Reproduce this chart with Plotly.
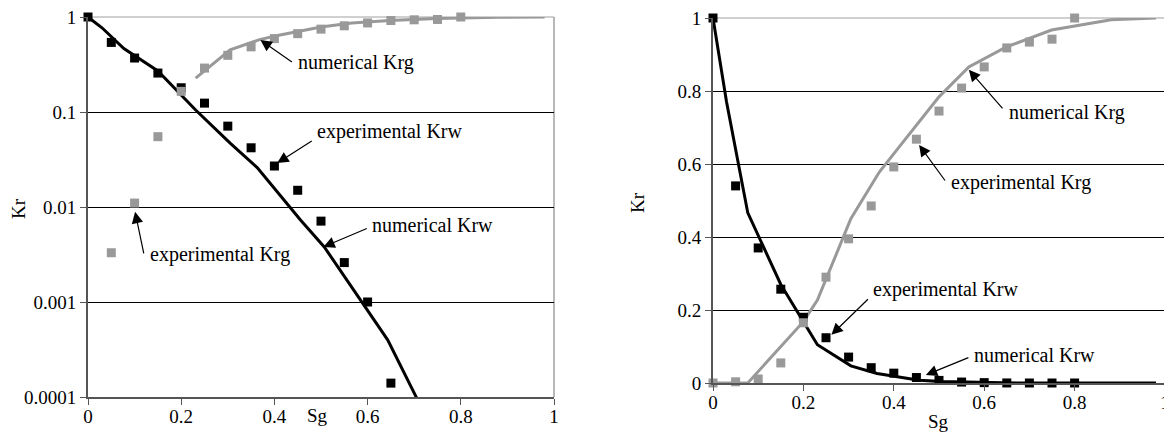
import numpy as np
import plotly.graph_objects as go

# ---------------- data ----------------
sg_exp = [0, 0.05, 0.1, 0.15, 0.2, 0.25, 0.3, 0.35, 0.4, 0.45, 0.5, 0.55, 0.6, 0.65, 0.7, 0.75, 0.8]
krw_exp = [1.0, 0.54, 0.37, 0.257, 0.18, 0.124, 0.071, 0.042, 0.027, 0.015, 0.0071, 0.0026, 0.001,
           0.00014, 0.00003, 0.00001, 0.000005]
krg_exp = [0, 0.0033, 0.011, 0.055, 0.165, 0.29, 0.395, 0.485, 0.592, 0.668, 0.745, 0.808, 0.866,
           0.918, 0.934, 0.942, 1.0]

sg_num_w = [0, 0.03, 0.077, 0.15, 0.231, 0.305, 0.363, 0.456, 0.507, 0.568, 0.643, 0.72, 0.8, 0.9, 0.98]
krw_num = [1.0, 0.77, 0.466, 0.27, 0.105, 0.047, 0.026, 0.0073, 0.0038, 0.0014, 0.0004, 0.00007,
           0.00001, 0.000001, 0.0000001]

sg_num_g = [0, 0.077, 0.2, 0.231, 0.305, 0.368, 0.412, 0.5, 0.566, 0.648, 0.749, 0.881, 0.98]
krg_num = [0, 0, 0.168, 0.227, 0.45, 0.578, 0.647, 0.784, 0.866, 0.92, 0.967, 0.995, 1.0]
log_krg_start = 3          # log plot's numerical Krg curve starts at this node

x_ticks = [0, 0.2, 0.4, 0.6, 0.8, 1]
log_ticks = [0.0001, 0.001, 0.01, 0.1, 1]
log_tick_text = ["0.0001", "0.001", "0.01", "0.1", "1"]
lin_ticks = [0, 0.2, 0.4, 0.6, 0.8, 1]
lin_tick_text = ["0", "0.2", "0.4", "0.6", "0.8", "1"]

# annotation labels: (text, arrow-head x, head y, tail dx, tail dy, text x, text y)
left_labels = [
    ("numerical Krg", 0.37, 0.573, 33, 23, 0.447, 0.328),
    ("experimental Krw", 0.406, 0.029, 36, -23, 0.488, 0.0617),
    ("numerical Krw", 0.505, 0.0038, 45, -19, 0.606, 0.00646),
    ("experimental Krg", 0.101, 0.0089, 9, 43, 0.129, 0.00313),
]
right_labels = [
    ("numerical Krg", 0.566, 0.858, 35, 40, 0.65, 0.742),
    ("experimental Krg", 0.456, 0.652, 27, 37, 0.522, 0.548),
    ("experimental Krw", 0.262, 0.132, 38, -37, 0.35, 0.255),
    ("numerical Krw", 0.471, 0.022, 44, -18, 0.573, 0.077),
]

# ---------------- styling ----------------
FONT = "Liberation Serif"
BLACK = "#000000"
GRAY = "#999999"
PAGE_OFF = 8                      # default body margin of the html page
W, H = 1172 - PAGE_OFF, 434 - PAGE_OFF


def px_x(p):                      # screen pixel -> paper fraction
    return (p - PAGE_OFF) / W


def px_y(p):
    return 1 - (p - PAGE_OFF) / H


fig = go.Figure()

# ---- left (log) chart ----
ymin_log = 1e-4
fig.add_trace(go.Scatter(x=sg_num_w, y=krw_num, mode="lines", line=dict(color=BLACK, width=3),
                         xaxis="x", yaxis="y", showlegend=False))
fig.add_trace(go.Scatter(x=sg_num_g[log_krg_start:], y=krg_num[log_krg_start:], mode="lines",
                         line=dict(color=GRAY, width=3), xaxis="x", yaxis="y", showlegend=False))
lw = [(s, v) for s, v in zip(sg_exp, krw_exp) if v >= ymin_log]
fig.add_trace(go.Scatter(x=[p[0] for p in lw], y=[p[1] for p in lw], mode="markers",
                         marker=dict(symbol="square", size=9, color=BLACK),
                         cliponaxis=False, xaxis="x", yaxis="y", showlegend=False))
lg = [(s, v) for s, v in zip(sg_exp, krg_exp) if v >= ymin_log]
fig.add_trace(go.Scatter(x=[p[0] for p in lg], y=[p[1] for p in lg], mode="markers",
                         marker=dict(symbol="square", size=9, color=GRAY),
                         cliponaxis=False, xaxis="x", yaxis="y", showlegend=False))

# ---- right (linear) chart ----
fig.add_trace(go.Scatter(x=sg_num_w, y=krw_num, mode="lines", line=dict(color=BLACK, width=3),
                         xaxis="x2", yaxis="y2", showlegend=False))
fig.add_trace(go.Scatter(x=sg_num_g, y=krg_num, mode="lines", line=dict(color=GRAY, width=3),
                         xaxis="x2", yaxis="y2", showlegend=False))
fig.add_trace(go.Scatter(x=sg_exp, y=krw_exp, mode="markers",
                         marker=dict(symbol="square", size=9, color=BLACK),
                         cliponaxis=False, xaxis="x2", yaxis="y2", showlegend=False))
fig.add_trace(go.Scatter(x=sg_exp, y=krg_exp, mode="markers",
                         marker=dict(symbol="square", size=9, color=GRAY),
                         cliponaxis=False, xaxis="x2", yaxis="y2", showlegend=False))

tickfont = dict(family=FONT, size=19, color=BLACK)
ax_common = dict(showline=True, linecolor="#555555", linewidth=2, ticks="outside", ticklen=6,
                 tickcolor="#555555", tickwidth=1, tickfont=tickfont, zeroline=False,
                 automargin=False, ticklabeloverflow="allow")

fig.update_layout(
    width=W, height=H,
    margin=dict(l=0, r=0, t=0, b=0, pad=0, autoexpand=False),
    paper_bgcolor="white", plot_bgcolor="white",
    xaxis=dict(domain=[px_x(88), px_x(554)], range=[0, 1], tickvals=x_ticks,
               ticktext=[f"{t:g}" for t in x_ticks], showgrid=False, anchor="y",
               ticklabelstandoff=-5, **ax_common),
    yaxis=dict(domain=[px_y(397), px_y(17)], type="log", range=[-4, 0], tickvals=log_ticks,
               ticktext=log_tick_text, showgrid=True, gridcolor=BLACK, gridwidth=1,
               anchor="x", **ax_common),
    xaxis2=dict(domain=[px_x(713), px_x(1165)], range=[0, 1], tickvals=x_ticks,
                ticktext=[f"{t:g}" for t in x_ticks], showgrid=False, anchor="y2",
                ticklabelstandoff=-5, **ax_common),
    yaxis2=dict(domain=[px_y(383), px_y(18)], range=[0, 1], tickvals=lin_ticks,
                ticktext=lin_tick_text, showgrid=True, gridcolor=BLACK, gridwidth=1,
                anchor="x2", **ax_common),
)

# plot-area borders (light grey, right and top)
for xr, yr in (("x", "y"), ("x2", "y2")):
    fig.add_shape(type="line", xref=f"{xr} domain", yref=f"{yr} domain", x0=1, x1=1, y0=0, y1=1,
                  line=dict(color="#a0a0a0", width=1.5), layer="below")
    fig.add_shape(type="line", xref=f"{xr} domain", yref=f"{yr} domain", x0=0, x1=1, y0=1, y1=1,
                  line=dict(color="#a0a0a0", width=1), layer="below")

annfont = dict(family=FONT, size=20, color=BLACK)
anns = []
for text, hx, hy, dx, dy, tx, ty in left_labels:
    anns.append(dict(xref="x", yref="y", x=hx, y=np.log10(hy), ax=dx, ay=dy, text="",
                     showarrow=True, arrowhead=2, arrowsize=1.9, arrowwidth=1.2, arrowcolor=BLACK))
    anns.append(dict(xref="x", yref="y", x=tx, y=np.log10(ty), text=text, showarrow=False,
                     xanchor="left", yanchor="middle", font=annfont))
for text, hx, hy, dx, dy, tx, ty in right_labels:
    anns.append(dict(xref="x2", yref="y2", x=hx, y=hy, ax=dx, ay=dy, text="",
                     showarrow=True, arrowhead=2, arrowsize=1.9, arrowwidth=1.2, arrowcolor=BLACK))
    anns.append(dict(xref="x2", yref="y2", x=tx, y=ty, text=text, showarrow=False,
                     xanchor="left", yanchor="middle", font=annfont))

titlefont = dict(family=FONT, size=19, color=BLACK)
anns += [
    dict(xref="paper", yref="paper", x=px_x(317), y=px_y(415), text="Sg", showarrow=False,
         font=titlefont, xanchor="center", yanchor="middle"),
    dict(xref="paper", yref="paper", x=px_x(938), y=px_y(421), text="Sg", showarrow=False,
         font=titlefont, xanchor="center", yanchor="middle"),
    dict(xref="paper", yref="paper", x=px_x(18), y=px_y(209), text="Kr", showarrow=False,
         font=titlefont, textangle=-90, xanchor="center", yanchor="middle"),
    dict(xref="paper", yref="paper", x=px_x(637), y=px_y(203), text="Kr", showarrow=False,
         font=titlefont, textangle=-90, xanchor="center", yanchor="middle"),
]
fig.update_layout(annotations=anns)

fig.write_html("out.html")
